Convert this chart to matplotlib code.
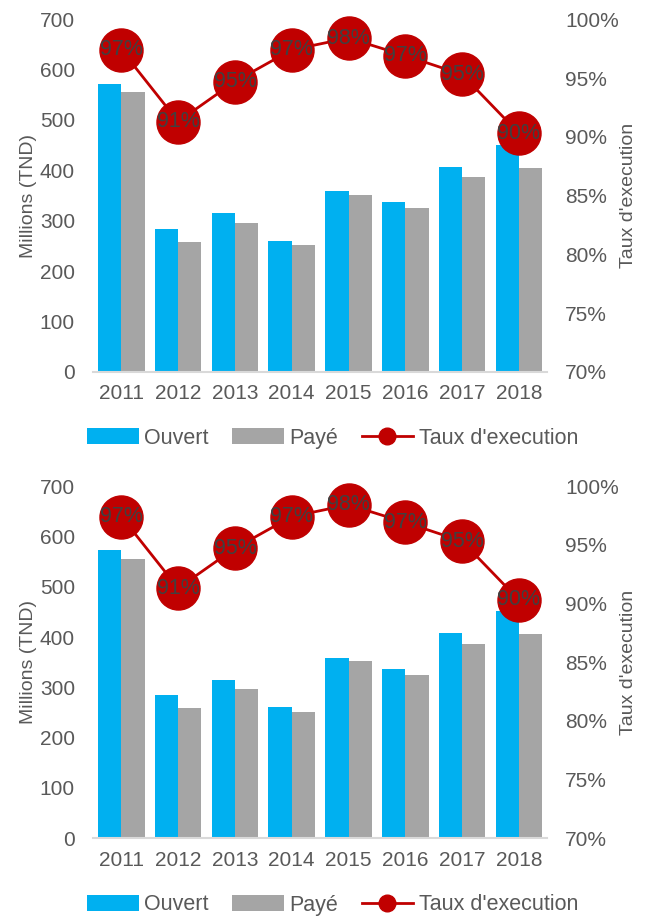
import numpy as np
import matplotlib.pyplot as plt
from matplotlib.ticker import PercentFormatter

# data
years = ['2011', '2012', '2013', '2014', '2015', '2016', '2017', '2018']
ouvert = [572, 284, 315, 260, 359, 337, 407, 451]
paye = [555, 258, 296, 251, 352, 325, 386, 405]
taux = [0.974, 0.913, 0.947, 0.974, 0.984, 0.969, 0.953, 0.903]
taux_labels = ['97%', '91%', '95%', '97%', '98%', '97%', '95%', '90%']

BLUE = '#00B0F0'
GREY = '#A5A5A5'
RED = '#C00000'
TXT = '#595959'

plt.rcParams['font.family'] = ['Liberation Sans', 'DejaVu Sans']


def draw_panel(fig, rect, legend_y):
    ax = fig.add_axes(rect)
    x = np.arange(len(years))
    w = 0.41
    b1 = ax.bar(x - w / 2, ouvert, w, color=BLUE, label='Ouvert')
    b2 = ax.bar(x + w / 2, paye, w, color=GREY, label='Payé')
    ax.set_xlim(-0.5, len(years) - 0.5)
    ax.set_ylim(0, 700)
    ax.set_yticks(range(0, 701, 100))
    ax.set_xticks(x)
    ax.set_xticklabels(years)
    ax.tick_params(axis='both', length=0, labelsize=15, colors=TXT)
    ax.tick_params(axis='y', pad=13)
    ax.tick_params(axis='x', pad=9)
    for s in ['top', 'right', 'left']:
        ax.spines[s].set_visible(False)
    ax.spines['bottom'].set_color('#D9D9D9')
    ax.spines['bottom'].set_linewidth(1.5)
    ax.set_ylabel('Millions (TND)', fontsize=14, color=TXT, labelpad=2)

    ax2 = ax.twinx()
    ax2.plot(x, taux, color=RED, lw=2, marker='o', ms=31,
             mfc=RED, mec=RED, label="Taux d'execution", clip_on=False)
    for xi, yi, lab in zip(x, taux, taux_labels):
        ax2.text(xi, yi, lab, ha='center', va='center', fontsize=15.5,
                 color='#404040')
    ax2.set_ylim(0.70, 1.00)
    ax2.set_yticks(np.arange(0.70, 1.001, 0.05))
    ax2.yaxis.set_major_formatter(PercentFormatter(1.0, decimals=0))
    ax2.tick_params(axis='y', length=0, labelsize=15, colors=TXT, pad=13)
    for s in ax2.spines.values():
        s.set_visible(False)
    ax2.set_ylabel("Taux d'execution", fontsize=14, color=TXT, labelpad=1)

    leg_line = plt.Line2D([], [], color=RED, lw=2, marker='o', ms=12)
    fig.legend([b1, b2, leg_line], ['Ouvert', 'Payé', "Taux d'execution"],
               loc='center', bbox_to_anchor=(0.5115, legend_y), ncol=3,
               frameon=False, fontsize=15.5, handlelength=2.4,
               handletextpad=0.25, columnspacing=1.1, labelcolor=TXT,
               borderaxespad=0)


fig = plt.figure(figsize=(6.5, 9.16), dpi=100)
draw_panel(fig, [0.143, 0.594, 0.699, 0.385], 1 - 438 / 916)
draw_panel(fig, [0.143, 0.0848, 0.699, 0.3846], 1 - 905 / 916)
fig.savefig('out.png', dpi=100)
